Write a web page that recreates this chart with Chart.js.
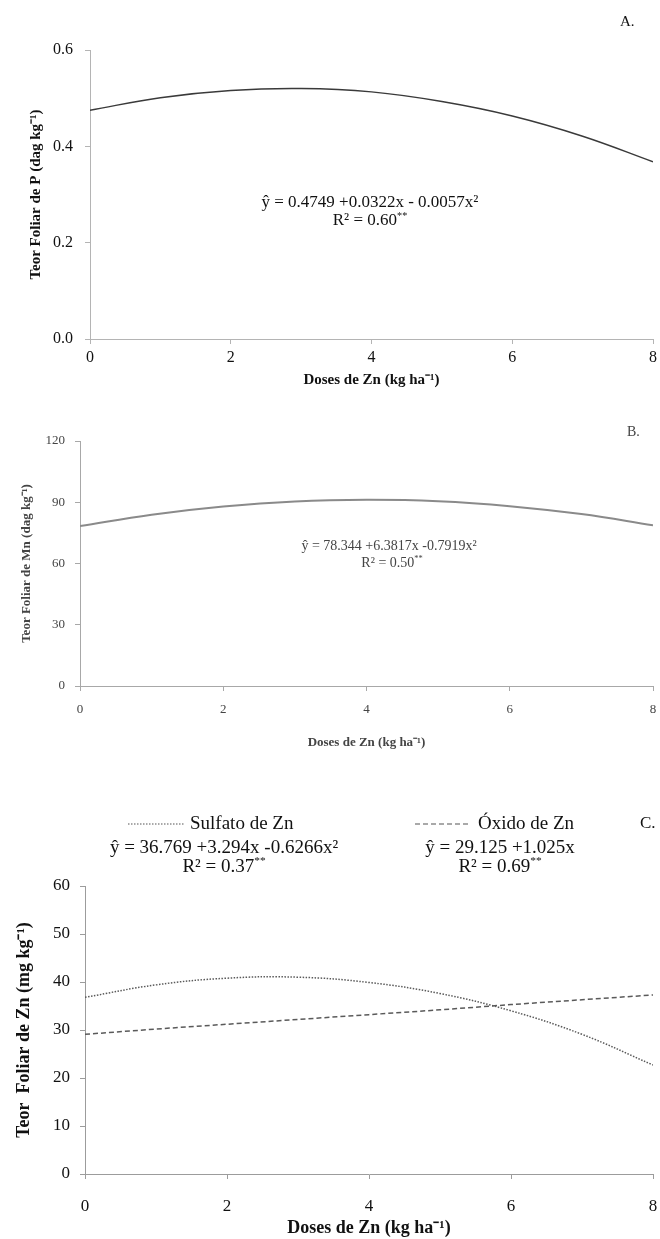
<!DOCTYPE html>
<html>
<head>
<meta charset="utf-8">
<script src="https://cdn.jsdelivr.net/npm/chart.js@4"></script>
<style>
  html, body { margin: 0; padding: 0; background: #fff; }
  body { width: 660px; height: 1239px; position: relative; overflow: hidden; }
  .panel { position: absolute; left: 0; width: 660px; }
</style>
</head>
<body>
<div class="panel" style="top:0;height:400px"><canvas id="chartP"></canvas></div>
<div class="panel" style="top:400px;height:360px"><canvas id="chartMn"></canvas></div>
<div class="panel" style="top:780px;height:459px"><canvas id="chartZn"></canvas></div>
<script>
"use strict";

// doses de Zn (kg ha-1)
var DOSES = [0, 1, 2, 3, 4, 5, 6, 7, 8];
var X_TICKS = [0, 2, 4, 6, 8];

// values
var TEOR_P = [0.475, 0.501, 0.516, 0.520, 0.513, 0.493, 0.463, 0.421, 0.368];
var TEOR_MN = [78.3, 83.9, 87.9, 90.4, 91.2, 90.5, 88.1, 84.2, 78.7];
var ZN_SULFATO = [36.8, 39.4, 40.8, 41.0, 39.9, 37.6, 34.0, 29.1, 22.7];
var ZN_OXIDO = [29.1, 30.2, 31.2, 32.2, 33.2, 34.2, 35.3, 36.3, 37.3];

var SERIF = '"Liberation Serif", "Times New Roman", serif';

function points(values) {
  return DOSES.map(function (x, i) {
    return { x: x, y: values[i] };
  });
}

// text with optional superscript parts: [["R² = 0.60"], ["**", true]]
function drawRich(ctx, parts, x, y, size, color, align) {
  var total = 0;
  var widths = parts.map(function (p) {
    ctx.font = (p[1] ? size * 0.6 : size) + "px " + SERIF;
    var w = ctx.measureText(p[0]).width;
    total += w;
    return w;
  });
  var cx = align === "left" ? x : x - total / 2;
  ctx.fillStyle = color;
  ctx.textBaseline = "middle";
  ctx.textAlign = "left";
  parts.forEach(function (p, i) {
    ctx.font = (p[1] ? size * 0.6 : size) + "px " + SERIF;
    ctx.fillText(p[0], cx, p[1] ? y - size * 0.3 : y);
    cx += widths[i];
  });
}

var notesPlugin = {
  id: "notes",
  afterDraw: function (chart, args, opts) {
    var ctx = chart.ctx;
    ctx.save();
    (opts.lines || []).forEach(function (l) {
      ctx.strokeStyle = l.color;
      ctx.lineWidth = l.width;
      ctx.setLineDash(l.dash);
      ctx.beginPath();
      ctx.moveTo(l.x1, l.y);
      ctx.lineTo(l.x2, l.y);
      ctx.stroke();
    });
    ctx.setLineDash([]);
    (opts.texts || []).forEach(function (t) {
      drawRich(ctx, t.parts, t.x, t.y, t.size, t.color, t.align);
    });
    ctx.restore();
  },
};

function makePanel(id, p) {
  var h = document.getElementById(id).parentNode.clientHeight;
  var axisBorder = { color: p.axisColor, width: 1, dash: p.axisDash };
  var axisGrid = {
    drawOnChartArea: false,
    drawTicks: true,
    tickLength: 5,
    color: p.axisColor,
  };
  return new Chart(document.getElementById(id), {
    type: "line",
    data: { datasets: p.datasets },
    options: {
      responsive: true,
      maintainAspectRatio: false,
      animation: false,
      events: [],
      layout: { padding: { top: p.area.top, right: 660 - p.area.right, left: 0, bottom: 0 } },
      elements: { point: { radius: 0 } },
      plugins: {
        legend: { display: false },
        tooltip: { enabled: false },
        notes: p.notes,
      },
      scales: {
        x: {
          type: "linear",
          min: 0,
          max: 8,
          afterBuildTicks: function (s) {
            s.ticks = X_TICKS.map(function (v) {
              return { value: v };
            });
          },
          afterFit: function (s) {
            s.height = h - p.area.bottom;
            // plot edges are fixed by layout padding
            s.paddingLeft = 0;
            s.paddingRight = 0;
          },
          border: axisBorder,
          grid: axisGrid,
          ticks: {
            padding: p.xTickPad,
            maxRotation: 0,
            color: p.textColor,
            font: { family: SERIF, size: p.tickSize },
          },
          title: {
            display: true,
            text: "Doses de Zn (kg ha⁻¹)",
            color: p.textColor,
            padding: { top: 0, bottom: p.xTitlePad },
            font: { family: SERIF, size: p.titleSize, weight: "bold" },
          },
        },
        y: {
          min: p.yMin,
          max: p.yMax,
          afterBuildTicks: function (s) {
            s.ticks = p.yTicks.map(function (v) {
              return { value: v };
            });
          },
          afterFit: function (s) {
            s.width = p.area.left;
            s.paddingTop = 0;
            s.paddingBottom = 0;
          },
          border: axisBorder,
          grid: axisGrid,
          ticks: {
            padding: p.yTickPad,
            color: p.textColor,
            font: { family: SERIF, size: p.tickSize },
            callback: p.yFormat,
          },
          title: {
            display: true,
            text: p.yTitle,
            color: p.textColor,
            padding: { top: p.yTitlePad, bottom: 0 },
            font: { family: SERIF, size: p.titleSize, weight: "bold" },
          },
        },
      },
    },
    plugins: [notesPlugin],
  });
}

// A. fósforo
makePanel("chartP", {
  area: { left: 90, right: 653, top: 50, bottom: 339 },
  yMin: 0, yMax: 0.6,
  yTicks: [0, 0.2, 0.4, 0.6],
  yFormat: function (v) { return v.toFixed(1); },
  yTitle: "Teor Foliar de P (dag kg⁻¹)",
  axisColor: "#b4b4b4", axisDash: [],
  textColor: "#111",
  tickSize: 16, titleSize: 15,
  xTickPad: 4, yTickPad: 12, xTitlePad: 11, yTitlePad: 27,
  datasets: [
    {
      data: points(TEOR_P),
      borderColor: "#3a3a3a",
      borderWidth: 1.4,
      tension: 0.4,
    },
  ],
  notes: {
    texts: [
      { parts: [["A."]], x: 620, y: 22, size: 15, color: "#111", align: "left" },
      { parts: [["ŷ = 0.4749 +0.0322x - 0.0057x²"]], x: 370, y: 203, size: 17, color: "#111" },
      { parts: [["R² = 0.60"], ["**", true]], x: 370, y: 221, size: 17, color: "#111" },
    ],
  },
});

// B. manganês
makePanel("chartMn", {
  area: { left: 80, right: 653, top: 41, bottom: 286 },
  yMin: 0, yMax: 120,
  yTicks: [0, 30, 60, 90, 120],
  yFormat: function (v) { return v; },
  yTitle: "Teor Foliar de Mn (dag kg⁻¹)",
  axisColor: "#a8a8a8", axisDash: [2, 1],
  textColor: "#444",
  tickSize: 13, titleSize: 13,
  xTickPad: 11, yTickPad: 10, xTitlePad: 10, yTitlePad: 19,
  datasets: [
    {
      data: points(TEOR_MN),
      borderColor: "#8a8a8a",
      borderWidth: 2,
      tension: 0.4,
    },
  ],
  notes: {
    texts: [
      { parts: [["B."]], x: 627, y: 32, size: 14, color: "#444", align: "left" },
      { parts: [["ŷ = 78.344 +6.3817x -0.7919x²"]], x: 389, y: 146, size: 14, color: "#444" },
      { parts: [["R² = 0.50"], ["**", true]], x: 392, y: 163, size: 14, color: "#444" },
    ],
  },
});

// C. zinco
makePanel("chartZn", {
  area: { left: 85, right: 653, top: 106, bottom: 394 },
  yMin: 0, yMax: 60,
  yTicks: [0, 10, 20, 30, 40, 50, 60],
  yFormat: function (v) { return v; },
  yTitle: "Teor  Foliar de Zn (mg kg⁻¹)",
  axisColor: "#9c9c9c", axisDash: [2, 1],
  textColor: "#111",
  tickSize: 17, titleSize: 18,
  xTickPad: 17, yTickPad: 10, xTitlePad: 0, yTitlePad: 14,
  datasets: [
    {
      data: points(ZN_SULFATO),
      borderColor: "#5a5a5a",
      borderWidth: 1.5,
      borderDash: [1.5, 1.5],
      tension: 0.4,
    },
    {
      data: points(ZN_OXIDO),
      borderColor: "#5a5a5a",
      borderWidth: 1.5,
      borderDash: [5, 3],
      tension: 0,
    },
  ],
  notes: {
    lines: [
      { x1: 128, x2: 185, y: 44, color: "#555", width: 1.2, dash: [1.5, 1.5] },
      { x1: 415, x2: 468, y: 44, color: "#555", width: 1.2, dash: [5, 3] },
    ],
    texts: [
      { parts: [["Sulfato de Zn"]], x: 190, y: 44, size: 19, color: "#111", align: "left" },
      { parts: [["Óxido de Zn"]], x: 478, y: 44, size: 19, color: "#111", align: "left" },
      { parts: [["C."]], x: 640, y: 44, size: 17, color: "#111", align: "left" },
      { parts: [["ŷ = 36.769 +3.294x -0.6266x²"]], x: 224, y: 68, size: 19, color: "#111" },
      { parts: [["R² = 0.37"], ["**", true]], x: 224, y: 87, size: 19, color: "#111" },
      { parts: [["ŷ = 29.125 +1.025x"]], x: 500, y: 68, size: 19, color: "#111" },
      { parts: [["R² = 0.69"], ["**", true]], x: 500, y: 87, size: 19, color: "#111" },
    ],
  },
});
</script>
</body>
</html>
